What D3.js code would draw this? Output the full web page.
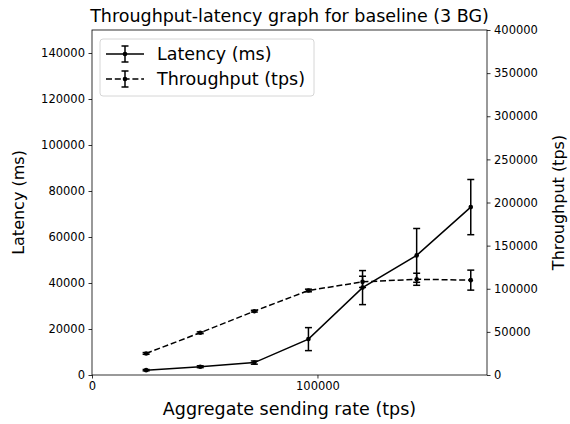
<!DOCTYPE html>
<html>
<head>
<meta charset="utf-8">
<script src="https://cdn.jsdelivr.net/npm/d3@7"></script>
<style>
  body { margin: 0; background: #fff; }
  text { font-family: "DejaVu Sans", sans-serif; fill: #000; }
</style>
</head>
<body>
<div id="chart"></div>
<script>
const sendRate = [24000, 48000, 72000, 96000, 120000, 144000, 168000];
const latency = [2100, 3600, 5400, 15600, 38000, 52000, 73000];
const latencyErr = [300, 400, 700, 5000, 7400, 11700, 12000];
const throughput = [25000, 49000, 74000, 98000, 108000, 111000, 110000];
const throughputErr = [1000, 1000, 1000, 1500, 6500, 7000, 11600];
const xTicks = [0, 100000];
const latencyTicks = [0, 20000, 40000, 60000, 80000, 100000, 120000, 140000];
const throughputTicks = [0, 50000, 100000, 150000, 200000, 250000, 300000, 350000, 400000];

const width = 570, height = 424;
const margin = { top: 30, right: 83, bottom: 49, left: 92 };
const dashed = '6,2.8';

const svg = d3.select('#chart').append('svg')
  .attr('width', width)
  .attr('height', height);

const x = d3.scaleLinear().domain([0, 175200]).range([margin.left, width - margin.right]);
const yL = d3.scaleLinear().domain([0, 150000]).range([height - margin.bottom, margin.top]);
const yR = d3.scaleLinear().domain([0, 400000]).range([height - margin.bottom, margin.top]);

function drawSeries(values, errs, y, dash) {
  const g = svg.append('g');
  const pts = sendRate.map((d, i) => ({ x: d, y: values[i], e: errs[i] }));
  g.append('path')
    .datum(pts)
    .attr('fill', 'none')
    .attr('stroke', '#000')
    .attr('stroke-width', 1.5)
    .attr('stroke-dasharray', dash)
    .attr('d', d3.line().x(d => x(d.x)).y(d => y(d.y)));
  const eb = g.selectAll('g.err').data(pts).join('g');
  eb.append('line')
    .attr('x1', d => x(d.x)).attr('x2', d => x(d.x))
    .attr('y1', d => y(d.y - d.e)).attr('y2', d => y(d.y + d.e))
    .attr('stroke', '#000').attr('stroke-width', 1.5);
  [-1, 1].forEach(s => {
    eb.append('line')
      .attr('x1', d => x(d.x) - 3.5).attr('x2', d => x(d.x) + 3.5)
      .attr('y1', d => y(d.y + s * d.e)).attr('y2', d => y(d.y + s * d.e))
      .attr('stroke', '#000').attr('stroke-width', 1.5);
  });
  eb.append('circle')
    .attr('cx', d => x(d.x)).attr('cy', d => y(d.y))
    .attr('r', 2.3).attr('fill', '#000');
}

drawSeries(latency, latencyErr, yL, null);
drawSeries(throughput, throughputErr, yR, dashed);

function styleAxis(g) {
  g.select('.domain').remove();
  g.selectAll('.tick line').attr('stroke', '#000').attr('stroke-width', 0.8);
  g.selectAll('.tick text').attr('font-size', '11.5px').attr('fill', '#000')
    .attr('font-family', '"DejaVu Sans", sans-serif');
}

svg.append('g')
  .attr('transform', `translate(0,${height - margin.bottom})`)
  .call(d3.axisBottom(x).tickValues(xTicks).tickFormat(d3.format('d')).tickSize(3.5).tickPadding(3.5))
  .call(styleAxis);

svg.append('g')
  .attr('transform', `translate(${margin.left},0)`)
  .call(d3.axisLeft(yL).tickValues(latencyTicks).tickFormat(d3.format('d')).tickSize(3.5).tickPadding(3.5))
  .call(styleAxis);

svg.append('g')
  .attr('transform', `translate(${width - margin.right},0)`)
  .call(d3.axisRight(yR).tickValues(throughputTicks).tickFormat(d3.format('d')).tickSize(3.5).tickPadding(3.5))
  .call(styleAxis);

// frame
svg.append('rect')
  .attr('x', margin.left).attr('y', margin.top)
  .attr('width', width - margin.left - margin.right)
  .attr('height', height - margin.top - margin.bottom)
  .attr('fill', 'none').attr('stroke', '#000').attr('stroke-width', 0.8);

// title and labels
svg.append('text')
  .attr('x', (margin.left + width - margin.right) / 2).attr('y', 22)
  .attr('text-anchor', 'middle').attr('font-size', '17.5px')
  .text('Throughput-latency graph for baseline (3 BG)');

svg.append('text')
  .attr('x', (margin.left + width - margin.right) / 2).attr('y', 415)
  .attr('text-anchor', 'middle').attr('font-size', '17.5px')
  .text('Aggregate sending rate (tps)');

svg.append('text')
  .attr('transform', `translate(24,${(margin.top + height - margin.bottom) / 2}) rotate(-90)`)
  .attr('text-anchor', 'middle').attr('font-size', '16px')
  .text('Latency (ms)');

svg.append('text')
  .attr('transform', `translate(564,${(margin.top + height - margin.bottom) / 2}) rotate(-90)`)
  .attr('text-anchor', 'middle').attr('font-size', '16px')
  .text('Throughput (tps)');

// legend
const legend = svg.append('g');
legend.append('rect')
  .attr('x', 100).attr('y', 39).attr('width', 214).attr('height', 57)
  .attr('rx', 3).attr('fill', '#fff').attr('fill-opacity', 0.8)
  .attr('stroke', '#ccc').attr('stroke-width', 0.8);

const legendItems = [
  { label: 'Latency (ms)', dash: null, y: 54 },
  { label: 'Throughput (tps)', dash: dashed, y: 79 }
];
legendItems.forEach(item => {
  const g = legend.append('g');
  g.append('line')
    .attr('x1', 106).attr('x2', 144).attr('y1', item.y).attr('y2', item.y)
    .attr('stroke', '#000').attr('stroke-width', 1.5)
    .attr('stroke-dasharray', item.dash);
  g.append('line')
    .attr('x1', 125).attr('x2', 125).attr('y1', item.y - 8).attr('y2', item.y + 8)
    .attr('stroke', '#000').attr('stroke-width', 1.5);
  [-8, 8].forEach(o => {
    g.append('line')
      .attr('x1', 121.5).attr('x2', 128.5).attr('y1', item.y + o).attr('y2', item.y + o)
      .attr('stroke', '#000').attr('stroke-width', 1.5);
  });
  g.append('circle').attr('cx', 125).attr('cy', item.y).attr('r', 2.3).attr('fill', '#000');
  g.append('text')
    .attr('x', 157).attr('y', item.y).attr('dy', '0.35em')
    .attr('font-size', '17.5px')
    .text(item.label);
});
</script>
</body>
</html>
